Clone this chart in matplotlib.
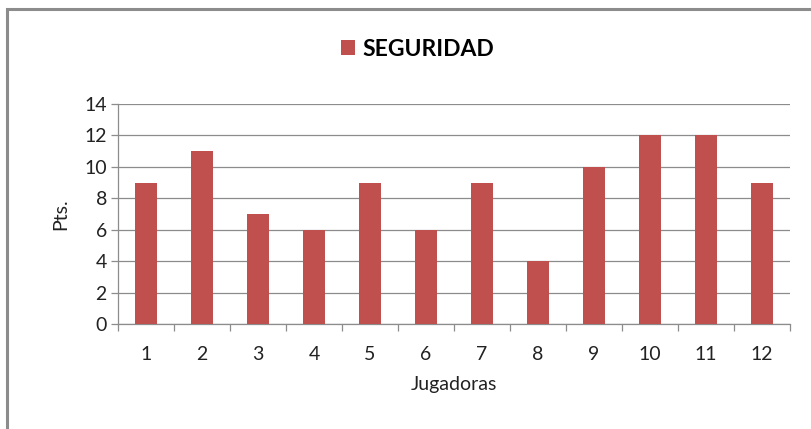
import matplotlib.pyplot as plt
from matplotlib.patches import Rectangle

plt.rcParams['font.family'] = ['Lato', 'DejaVu Sans']

jugadoras = ['1', '2', '3', '4', '5', '6', '7', '8', '9', '10', '11', '12']
puntos = [9, 11, 7, 6, 9, 6, 9, 4, 10, 12, 12, 9]
serie = 'SEGURIDAD'

fig = plt.figure(figsize=(8.11, 4.29), dpi=100)
ax = fig.add_axes([118 / 811, 1 - 324 / 429, 672 / 811, 220 / 429])

x = range(len(puntos))
ax.bar(x, puntos, width=0.41, color='#C0504D', label=serie, zorder=3)

ax.set_xlim(-0.5, len(puntos) - 0.5)
ax.set_ylim(0, 14)
ax.set_yticks(range(0, 15, 2))
ax.set_xticks(list(x))
ax.set_xticklabels(jugadoras)
ax.set_xticks([i - 0.5 for i in range(len(puntos) + 1)], minor=True)

ax.grid(axis='y', color='#8c8c8c', linewidth=0.9, zorder=0)
for s in ['top', 'right']:
    ax.spines[s].set_visible(False)
for s in ['left', 'bottom']:
    ax.spines[s].set_color('#8c8c8c')
    ax.spines[s].set_linewidth(0.9)

ax.tick_params(axis='x', which='major', length=0, pad=16, labelsize=14, colors='#222222')
ax.tick_params(axis='x', which='minor', length=5, color='#8c8c8c', width=0.9)
ax.tick_params(axis='y', length=5, color='#8c8c8c', width=0.9, labelsize=14, labelcolor='#222222', pad=3)

ax.set_xlabel('Jugadoras', fontsize=14, labelpad=9, color='#222222')
ax.set_ylabel('Pts.', fontsize=14, labelpad=11, color='#222222')

ax.legend(loc='center', bbox_to_anchor=(0.515, (429 - 49) / 429), bbox_transform=fig.transFigure,
          frameon=False, handlelength=0.6, handleheight=0.6, handletextpad=0.35,
          prop={'weight': 'bold', 'size': 16.5})

# outer chart border
fig.patches.append(Rectangle((7 / 811, -0.1), 1.2, 1 - 9 / 429 + 0.1, transform=fig.transFigure,
                             fill=False, edgecolor='#8c8c8c', linewidth=2.2))

fig.savefig('out.png', dpi=100)
